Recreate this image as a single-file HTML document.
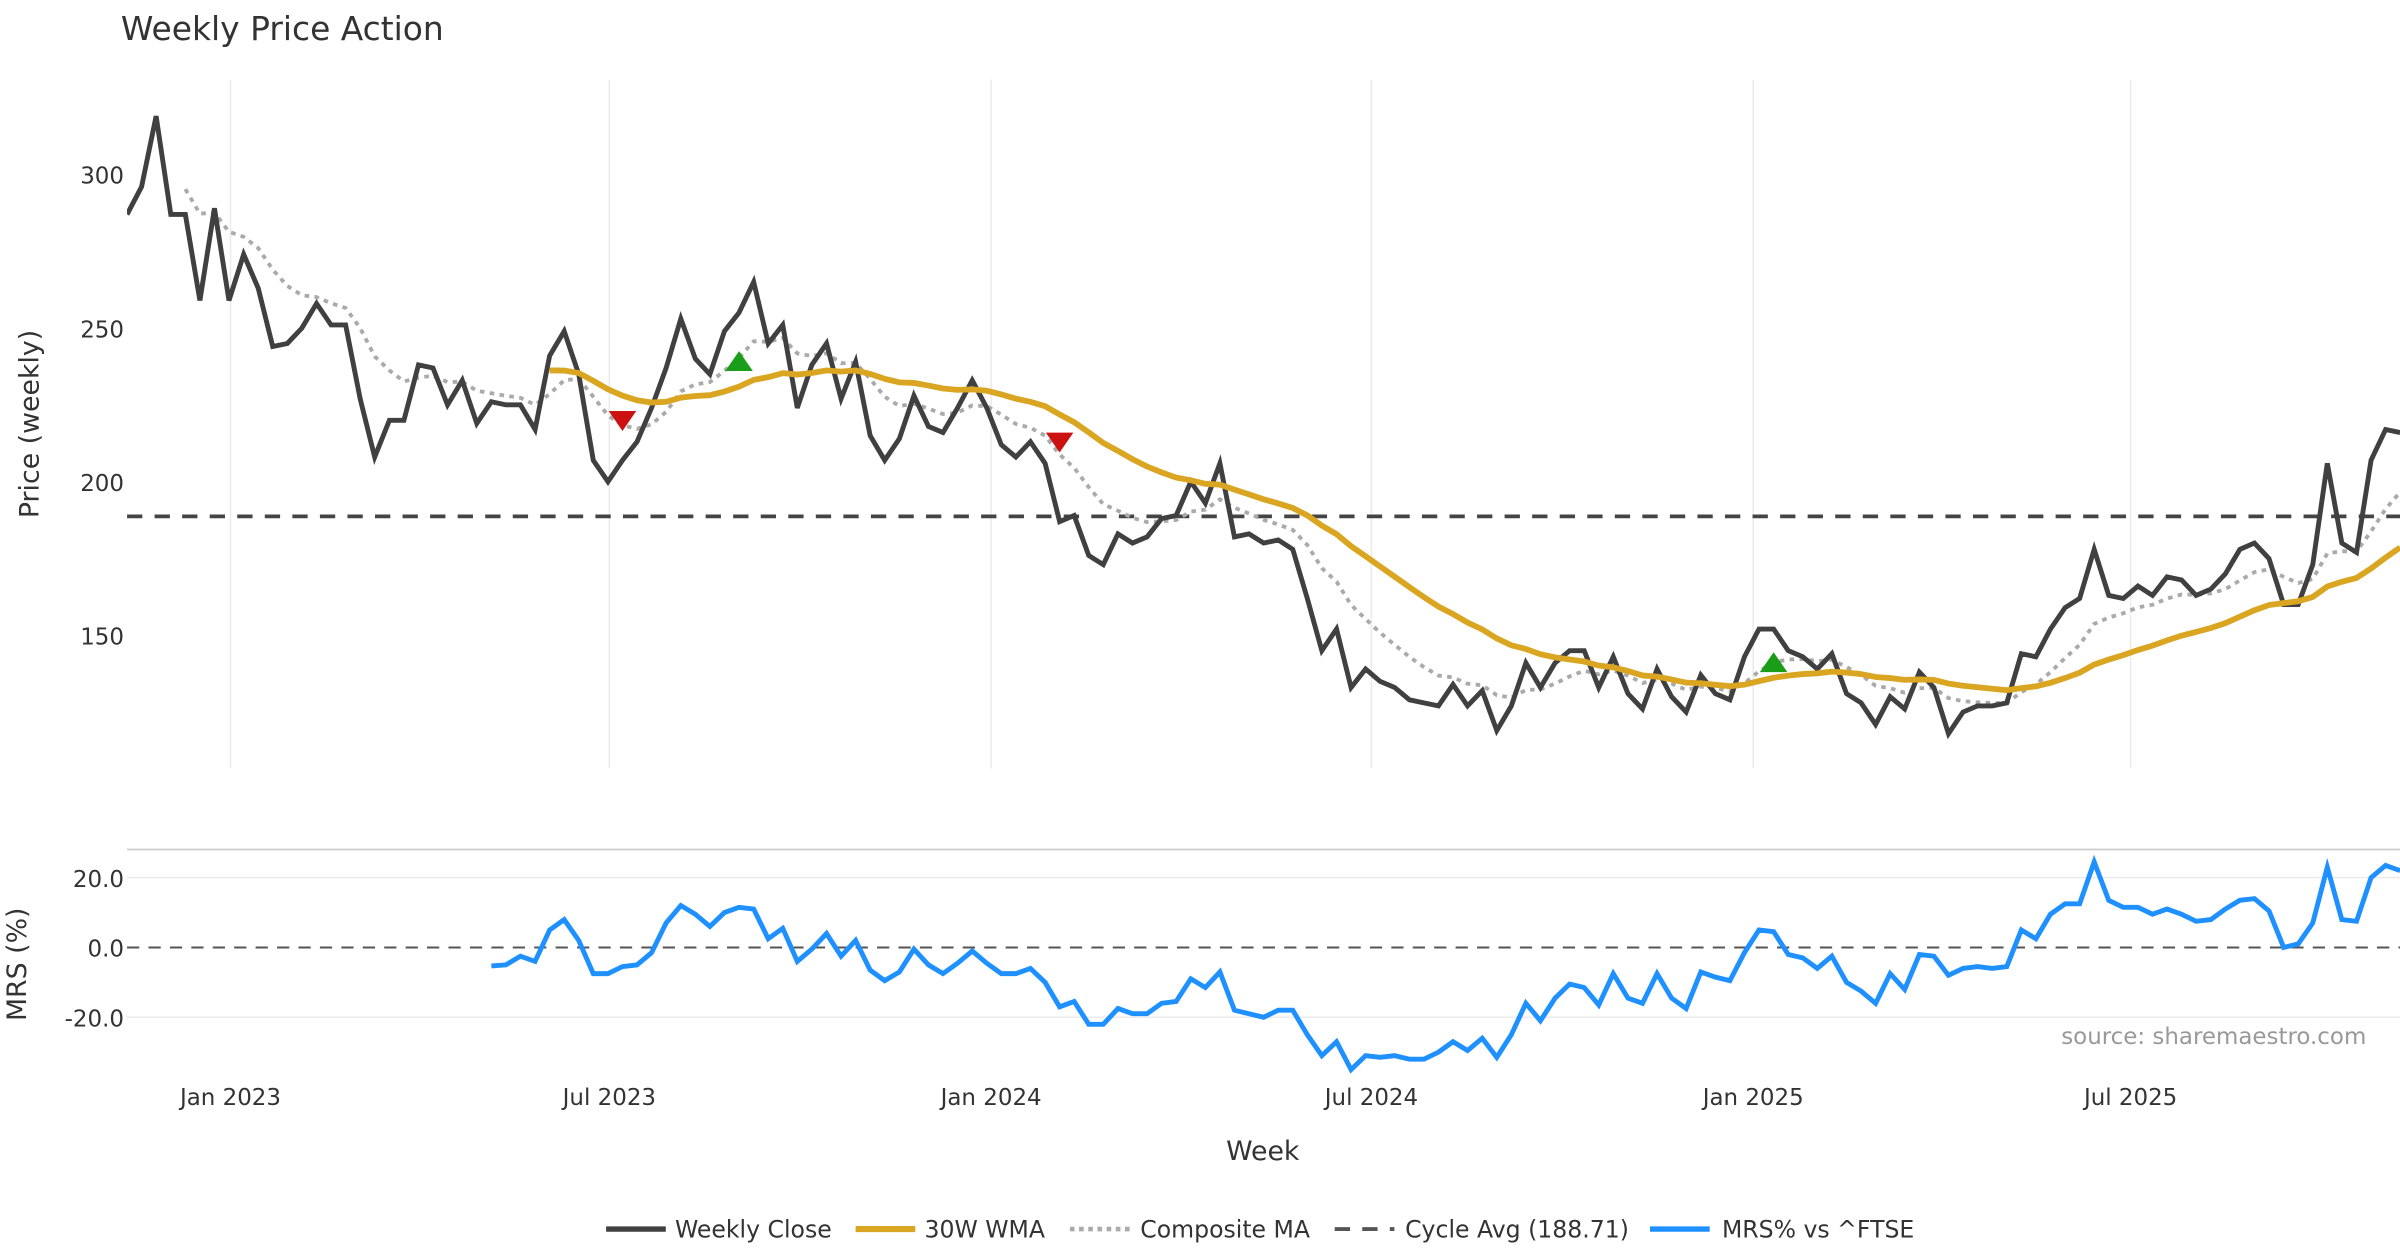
<!DOCTYPE html>
<html><head><meta charset="utf-8"><style>
html,body{margin:0;padding:0;background:#fff;}
svg{display:block;font-family:"DejaVu Sans","Liberation Sans",sans-serif;}
</style></head><body>
<svg id="chart" width="2400" height="1260" viewBox="0 0 1568 823.2" xmlns="http://www.w3.org/2000/svg">
<rect width="1568" height="824" fill="#fff"/>
<text x="79" y="26" font-size="21.5" fill="#333">Weekly Price Action</text>
<g id="grid"></g>
<g id="plots"></g>
<text transform="translate(25,277) rotate(-90)" text-anchor="middle" font-size="17.5" fill="#333">Price (weekly)</text>
<text transform="translate(17,630) rotate(-90)" text-anchor="middle" font-size="17.5" fill="#333">MRS (%)</text>
<text x="825" y="758" text-anchor="middle" font-size="17.5" fill="#333">Week</text>
<text x="1546" y="682" text-anchor="end" font-size="15" fill="#999">source: sharemaestro.com</text>
<g id="legend" font-size="15.4" fill="#333">
<g><line x1="396" y1="803" x2="435" y2="803" stroke="#404040" stroke-width="3.5"/><text x="441" y="808.5">Weekly Close</text></g>
<g><line x1="559" y1="803" x2="598" y2="803" stroke="#DAA520" stroke-width="4"/><text x="604" y="808.5">30W WMA</text></g>
<g><line x1="699" y1="803" x2="738" y2="803" stroke="#aaa" stroke-width="3" stroke-dasharray="3,3"/><text x="745" y="808.5">Composite MA</text></g>
<g><line x1="872" y1="803" x2="911" y2="803" stroke="#555" stroke-width="2.5" stroke-dasharray="10,8"/><text x="918" y="808.5">Cycle Avg (188.71)</text></g>
<g><line x1="1078" y1="803" x2="1117" y2="803" stroke="#1E90FF" stroke-width="3.5"/><text x="1125" y="808.5">MRS% vs ^FTSE</text></g>
</g>
</svg>
<script>
const closes = [287,296,319,287,287,259,289,259,274,263,244,245,250,258,251,251,227,208,220,220,238,237,225,233,219,226,225,225,217,241,249,235,207,200,207,213,224,237,253,240,235,249,255,265,245,251,224,238,245,227,239,215,207,214,228,218,216,224,233,224,212,208,213,206,187,189,176,173,183,180,182,188,189,200,193,206,182,183,180,181,178,162,145,152,133,139,135,133,129,128,127,134,127,132,119,127,141,133,141,145,145,133,143,131,126,139,130,125,137,131,129,143,152,152,145,143,139,144,131,128,121,130,126,138,133,118,125,127,127,128,144,143,152,159,162,178,163,162,166,163,169,168,163,165,170,178,180,175,160,160,173,206,180,177,207,217,216];
const mrs = [-5.3,-5,-2.5,-4,5,8,2,-7.5,-7.5,-5.5,-5,-1.5,7,12,9.5,6,10,11.5,11,2.5,5.5,-4,-0.5,4,-2.5,2,-6.5,-9.5,-7,-0.5,-5,-7.5,-4.5,-1,-4.5,-7.5,-7.5,-6,-10,-17,-15.5,-22,-22,-17.5,-19,-19,-16,-15.5,-9,-11.5,-7,-18,-19,-20,-18,-18,-25,-31,-27,-35,-31,-31.5,-31,-32,-32,-30,-27,-29.5,-26,-31.5,-25,-16,-21,-14.5,-10.5,-11.5,-16.5,-7.5,-14.5,-16,-7.5,-14.5,-17.5,-7,-8.5,-9.5,-1.5,5,4.5,-2,-3,-6,-2.5,-10,-12.5,-16,-7.5,-12,-2,-2.5,-8,-6,-5.5,-6,-5.5,5,2.5,9.5,12.5,12.5,24.5,13.5,11.5,11.5,9.5,11,9.5,7.5,8,11,13.5,14,10.5,0,1,7,23,8,7.5,20,23.5,22];
const mrsStart = 25;
const cycleAvg = 188.71;
const priceTicks = [150,200,250,300];
const mrsTicks = [-20,0,20];
const xTickLabels = ["Jan 2023","Jul 2023","Jan 2024","Jul 2024","Jan 2025","Jul 2025"];
const xTickWeeks = [7.1,33.1,59.3,85.4,111.6,137.5];
const buyWeeks = [42,113];
const buyValues = [239,141];
const sellWeeks = [34,64];
const sellValues = [220,213];

const NS="http://www.w3.org/2000/svg";
const X0=83, DX=9.52;
const xs=i=>X0+DX*i;
const yP=v=>114+(300-v)*2.007;
const yM=v=>619-v*2.28;
function mk(tag,attrs,parent){const e=document.createElementNS(NS,tag);for(const k in attrs)e.setAttribute(k,attrs[k]);parent.appendChild(e);return e;}
const grid=document.getElementById('grid'), plots=document.getElementById('plots');

const defs=mk('defs',{},plots);
const cp=mk('clipPath',{id:'cp'},defs);mk('rect',{x:83,y:40,width:1485,height:470},cp);
const cm=mk('clipPath',{id:'cm'},defs);mk('rect',{x:83,y:550,width:1485,height:160},cm);

xTickWeeks.forEach((w,k)=>{
  const l=mk('line',{x1:xs(w),x2:xs(w),y1:52,y2:502,stroke:'#ebebeb','stroke-width':1},grid);
  
  
  const t=mk('text',{x:xs(w),y:722,'text-anchor':'middle','font-size':15,fill:'#333'},grid);
  t.textContent=xTickLabels[k];
  
  
});
priceTicks.forEach(v=>{
  const t=mk('text',{x:81,y:yP(v)+6,'text-anchor':'end','font-size':15,fill:'#333'},grid);
  t.textContent=v;
  
  
});
mk('line',{x1:83,x2:1568,y1:555,y2:555,stroke:'#ccc','stroke-width':1.2},grid);
mrsTicks.forEach(v=>{
  if(v!==0){const l=mk('line',{x1:83,x2:1568,y1:yM(v),y2:yM(v),stroke:'#ebebeb','stroke-width':1},grid);
  
  }
  const t=mk('text',{x:81,y:yM(v)+6,'text-anchor':'end','font-size':15,fill:'#333'},grid);
  t.textContent=v.toFixed(1);
  
  
});
const z=mk('line',{x1:83,x2:1568,y1:yM(0),y2:yM(0),stroke:'#555','stroke-width':1.3,'stroke-dasharray':'8,6'},grid);



const comp=[], wma=[];
let ema=null;
for(let i=0;i<closes.length;i++){
  if(i===4){let s=0;for(let j=0;j<=4;j++)s+=closes[j];ema=s/5;comp.push([i,ema]);}
  else if(i>4){ema=ema+0.22*(closes[i]-ema);comp.push([i,ema]);}
  if(i>=29){let s=0,w=0;for(let j=0;j<30;j++){s+=closes[i-29+j]*(j+1);w+=j+1;}wma.push([i,s/w]);}
}
function path(pts,fy){return pts.map((p,k)=>(k?'L':'M')+xs(p[0]).toFixed(1)+' '+fy(p[1]).toFixed(1)).join('');}
const gp=mk('g',{'clip-path':'url(#cp)'},plots);
let e;
e=mk('line',{x1:83,x2:1568,y1:yP(cycleAvg),y2:yP(cycleAvg),stroke:'#444','stroke-width':2.5,'stroke-dasharray':'10,8'},gp);


e=mk('path',{d:path(comp,yP),fill:'none',stroke:'#aaa','stroke-width':2.5,'stroke-dasharray':'3,3.5'},gp);


e=mk('path',{d:path(closes.map((v,i)=>[i,v]),yP),fill:'none',stroke:'#404040','stroke-width':3.2,'stroke-linejoin':'miter'},gp);


e=mk('path',{d:path(wma,yP),fill:'none',stroke:'#DAA520','stroke-width':3.8},gp);


buyWeeks.forEach((i,k)=>{
  const x=xs(i),y=yP(buyValues[k]);
  const m=mk('polygon',{points:`${x-9},${y+6} ${x+9},${y+6} ${x},${y-7}`,fill:'#1a9e1a'},gp);
  
  
});
sellWeeks.forEach((i,k)=>{
  const x=xs(i),y=yP(sellValues[k]);
  const m=mk('polygon',{points:`${x-9},${y-6} ${x+9},${y-6} ${x},${y+7}`,fill:'#cc1111'},gp);
  
  
});
const gm=mk('g',{'clip-path':'url(#cm)'},plots);
e=mk('path',{d:path(mrs.map((v,k)=>[k+mrsStart,v]),yM),fill:'none',stroke:'#1E90FF','stroke-width':3.2},gm);


</script>
</body></html>
